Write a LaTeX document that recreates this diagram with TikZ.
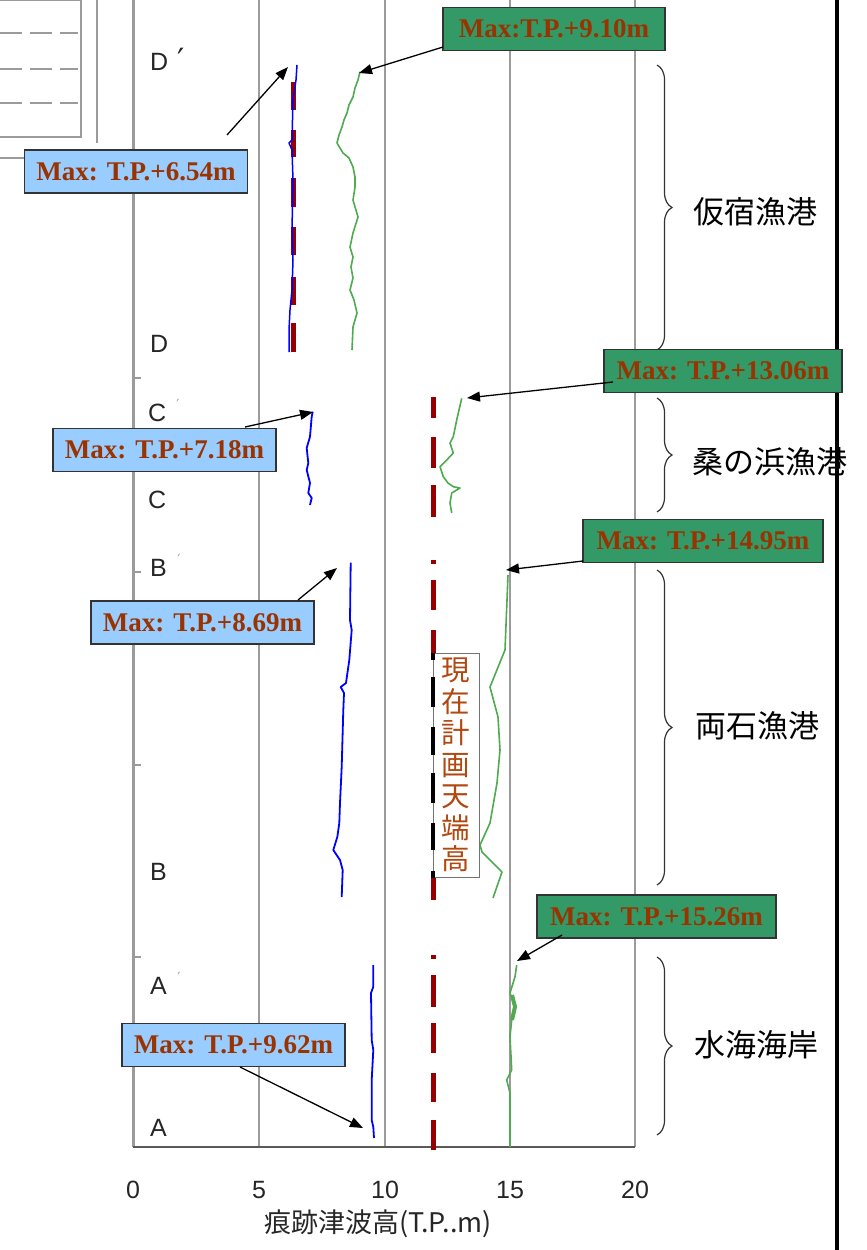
\documentclass[tikz,border=0pt]{standalone}
\usepackage{fontspec}
\setmainfont{Liberation Serif}
\newfontfamily\sansf{Liberation Sans}
\newfontfamily\jpf{Noto Sans CJK JP}
\newfontfamily\dvf{DejaVu Sans}
\usetikzlibrary{arrows.meta,decorations.pathreplacing}
\definecolor{maxtext}{RGB}{153,51,0}
\definecolor{bluebox}{RGB}{153,204,255}
\definecolor{greenbox}{RGB}{51,153,102}
\definecolor{planred}{RGB}{150,0,0}
\definecolor{calcgreen}{RGB}{80,170,80}
\definecolor{gridgray}{RGB}{155,155,155}
\definecolor{vtext}{RGB}{176,72,16}
\begin{document}
\begin{tikzpicture}[x=1pt,y=-1pt,
  maxbox/.style={draw=black!80, line width=1.8pt, minimum height=43pt, inner sep=0pt,
    font=\fontsize{27}{27}\selectfont\bfseries, text=maxtext},
  obsbox/.style={maxbox, fill=bluebox, minimum width=223pt},
  calcbox/.style={maxbox, fill=greenbox},
  ptr/.style={draw=black, line width=1.3pt, -{Triangle[length=13pt,width=10pt]}},
  gridline/.style={draw=gridgray, line width=2pt},
  obscurve/.style={draw=blue, line width=1.8pt, line join=round},
  calccurve/.style={draw=calcgreen, line width=1.6pt, line join=round},
  plandash/.style={draw=planred, line width=5pt},
  seclabel/.style={font=\jpf\fontsize{31}{31}\selectfont, text=black, inner sep=0pt},
  sectbrace/.style={draw=black!80, line width=1.2pt, decorate, decoration={brace, amplitude=15pt}},
  ptlabel/.style={font=\sansf\fontsize{25}{25}\selectfont, text=black!85, anchor=west, inner sep=0pt},
  ticklabel/.style={font=\sansf\fontsize{25}{25}\selectfont, text=black!85, inner sep=0pt},
  primemark/.style={font=\dvf\fontsize{14}{14}\selectfont, text=black!40, inner sep=0pt},
  vbox/.style={draw=black!55, line width=1pt, fill=white, minimum width=46pt, minimum height=224pt,
    inner sep=0pt, align=center, font=\jpf\fontsize{28.5}{31.5}\selectfont, text=vtext},
]
\useasboundingbox (0,0) rectangle (867,1250);
\fill[white] (0,0) rectangle (867,1250);

% partial table at top left
\draw[draw=gridgray, line width=1.5pt] (-3,0) -- (81,0) -- (81,137) -- (-3,137);
\foreach \y in {33,69,103}
  \draw[draw=gridgray, line width=1.2pt, dash pattern=on 22pt off 8pt] (0,\y) -- (78,\y);
\draw[draw=gridgray, line width=1.5pt] (97,0) -- (97,143);
\draw[draw=gridgray, line width=1.5pt] (-3,158) -- (30,158);

% axes and grid
\draw[gridline, line width=3pt] (133,0) -- (133,1147);
\foreach \x in {259,385,510,635}
  \draw[gridline] (\x,0) -- (\x,1147);
\draw[draw=black!65, line width=2pt] (133,1147) -- (635,1147);
\foreach \y in {378,572,765,957}
  \draw[gridline] (133,\y) -- (141,\y);
\draw[line width=4pt] (837,0) -- (837,1250);

% tick labels and axis title
\node[ticklabel] (t0) at (133,1190) {0};
\node[ticklabel] (t5) at (259,1190) {5};
\node[ticklabel] (t10) at (385,1190) {10};
\node[ticklabel] (t15) at (510,1190) {15};
\node[ticklabel] (t20) at (635,1190) {20};
\node[font=\jpf\fontsize{27}{27}\selectfont, text=black!85, inner sep=0pt] (xtitle) at (378,1224) {痕跡津波高(T.P..m)};

% point labels
\node[ptlabel] (lDp) at (150,62) {D};
\node[primemark, font=\dvf\fontsize{32}{32}\selectfont, text=black!85] (pDp) at (181,60) {′};
\node[ptlabel] (lD) at (150,344) {D};
\node[ptlabel] (lCp) at (148,413) {C};
\node[primemark] (pCp) at (178,404) {′};
\node[ptlabel] (lC) at (148,500) {C};
\node[ptlabel] (lBp) at (150,568) {B};
\node[primemark] (pBp) at (179,559) {′};
\node[ptlabel] (lB) at (150,872) {B};
\node[ptlabel] (lAp) at (150,986) {A};
\node[primemark] (pAp) at (179,977) {′};
\node[ptlabel] (lA) at (150,1128) {A};

% red dashed lines
\foreach \a/\b in {82/110,130/157,178/207,227/255,277/305,323/352}
  \draw[plandash] (293,\a) -- (293,\b);
\foreach \a/\b in {397/418,437/468,485/517,560/564,580/610,630/660,677/707,727/755,773/803,823/850,871/900,955/959,975/1007,1023/1053,1073/1102,1120/1150}
  \draw[plandash] (433,\a) -- (433,\b);

% observed (blue) curves
\draw[obscurve, line width=1.5pt] (297,65) -- (296,80) -- (293,100) -- (292,140) -- (289,143) -- (292,150) -- (293,180) -- (292,230) -- (293,260) -- (292,290) -- (290,310) -- (289,330) -- (289,352);
\draw[obscurve] (312.7,411.7) -- (311.7,416.7) -- (310,436.7) -- (306.7,448) -- (308.3,463) -- (306.7,470) -- (310,483) -- (308.3,493) -- (311.7,498) -- (310,505);
\draw[obscurve] (350.7,562.7) -- (350,620) -- (351.7,630) -- (349.3,660) -- (346,683) -- (340.7,687) -- (344,693) -- (343.3,710) -- (341.7,767) -- (340,803) -- (339.3,823) -- (337.3,837) -- (333.3,850) -- (340,860) -- (342.7,870) -- (341.7,897);
\draw[obscurve] (373.3,965) -- (373.3,986.7) -- (371,993) -- (371.7,1040) -- (373.3,1050) -- (371.7,1080) -- (371.7,1120) -- (373.3,1127) -- (374,1138);

% calculated (green) curves
\draw[calccurve] (360,71.7) -- (358,80) -- (355,88) -- (353,97) -- (349,105) -- (347,113) -- (344,120) -- (342,127) -- (339,135) -- (337,143) -- (343,153) -- (349,158) -- (353,167) -- (355,177) -- (355,187) -- (353,200) -- (358,217) -- (353,233) -- (350,247) -- (353,257) -- (351,267) -- (353,278) -- (350,290) -- (354,300) -- (357,313) -- (353,327) -- (352,350);
\draw[calccurve] (461.7,398.3) -- (456.7,420) -- (453.3,436.7) -- (450,443) -- (453.3,453) -- (446.7,460) -- (440,466.7) -- (443.3,476.7) -- (448,483) -- (453.3,486.7) -- (460,488) -- (451.7,493) -- (450,503) -- (451.7,513);
\draw[calccurve] (508,575) -- (507,600) -- (505,650) -- (490,687) -- (498,717) -- (500,750) -- (497,783) -- (490,823) -- (480,845) -- (482,852) -- (492,862) -- (502,872) -- (493,898);
\draw[calccurve] (516.7,965) -- (515,976.7) -- (510,993) -- (515,1006.7) -- (511.7,1020) -- (510,1036.7) -- (511.7,1070) -- (506.7,1080) -- (510,1093) -- (510,1147);
\draw[calccurve, line width=4pt] (512,995) -- (515,1006.7) -- (512,1020);

% vertical label box over planned line
\node[vbox] (plan) at (456,765) {現\\在\\計\\画\\天\\端\\高};
\begin{scope}
  \clip (425,653) rectangle (441,877);
  \foreach \a/\b in {630/660,677/707,727/755,773/803,823/850,871/900}
    \draw[plandash, draw=black, line width=4pt] (433,\a) -- (433,\b);
\end{scope}

% section braces and labels
\coordinate (kariT) at (657,65);   \coordinate (kariB) at (657,350);
\coordinate (kuwaT) at (657,398);  \coordinate (kuwaB) at (657,512);
\coordinate (ryoT) at (657,570);   \coordinate (ryoB) at (657,885);
\coordinate (mizuT) at (657,957);  \coordinate (mizuB) at (657,1135);
\draw[sectbrace] (kariT) -- (kariB);
\draw[sectbrace] (kuwaT) -- (kuwaB);
\draw[sectbrace] (ryoT) -- (ryoB);
\draw[sectbrace] (mizuT) -- (mizuB);
\node[seclabel] (kari) at (755,212) {仮宿漁港};
\node[seclabel] (kuwa) at (770,462) {桑の浜漁港};
\node[seclabel] (ryo) at (757,726) {両石漁港};
\node[seclabel] (mizu) at (756,1045) {水海海岸};

% max boxes
\node[obsbox] (m654) at (136,171.5) {Max: T.P.+6.54m};
\node[calcbox, minimum width=222pt] (m910) at (554,29) {Max:T.P.+9.10m};
\node[calcbox, minimum width=238pt] (m1306) at (723,371) {Max: T.P.+13.06m};
\node[calcbox, minimum width=240pt] (m1495) at (703,541) {Max: T.P.+14.95m};
\node[calcbox, minimum width=239pt] (m1526) at (656.5,916.5) {Max: T.P.+15.26m};
\node[obsbox] (m718) at (164.5,450) {Max: T.P.+7.18m};
\node[obsbox] (m869) at (202.5,622.5) {Max: T.P.+8.69m};
\node[obsbox] (m962) at (233.5,1045) {Max: T.P.+9.62m};

% arrow ends
\coordinate (s654) at (227,135);  \coordinate (e654) at (288,67);
\coordinate (s910) at (443,47);   \coordinate (e910) at (359,73);
\coordinate (s1306) at (613,382); \coordinate (e1306) at (467,398);
\coordinate (s1495) at (583,561); \coordinate (e1495) at (506,570);
\coordinate (s1526) at (562,935); \coordinate (e1526) at (517,961);
\coordinate (s718) at (245,427);  \coordinate (e718) at (313,412);
\coordinate (s869) at (298,600);  \coordinate (e869) at (337,568);
\coordinate (s962) at (240,1067); \coordinate (e962) at (363,1128);
\draw[ptr] (s654) -- (e654);
\draw[ptr] (s910) -- (e910);
\draw[ptr] (s1306) -- (e1306);
\draw[ptr] (s1495) -- (e1495);
\draw[ptr] (s1526) -- (e1526);
\draw[ptr] (s718) -- (e718);
\draw[ptr] (s869) -- (e869);
\draw[ptr] (s962) -- (e962);
\end{tikzpicture}
\end{document}
